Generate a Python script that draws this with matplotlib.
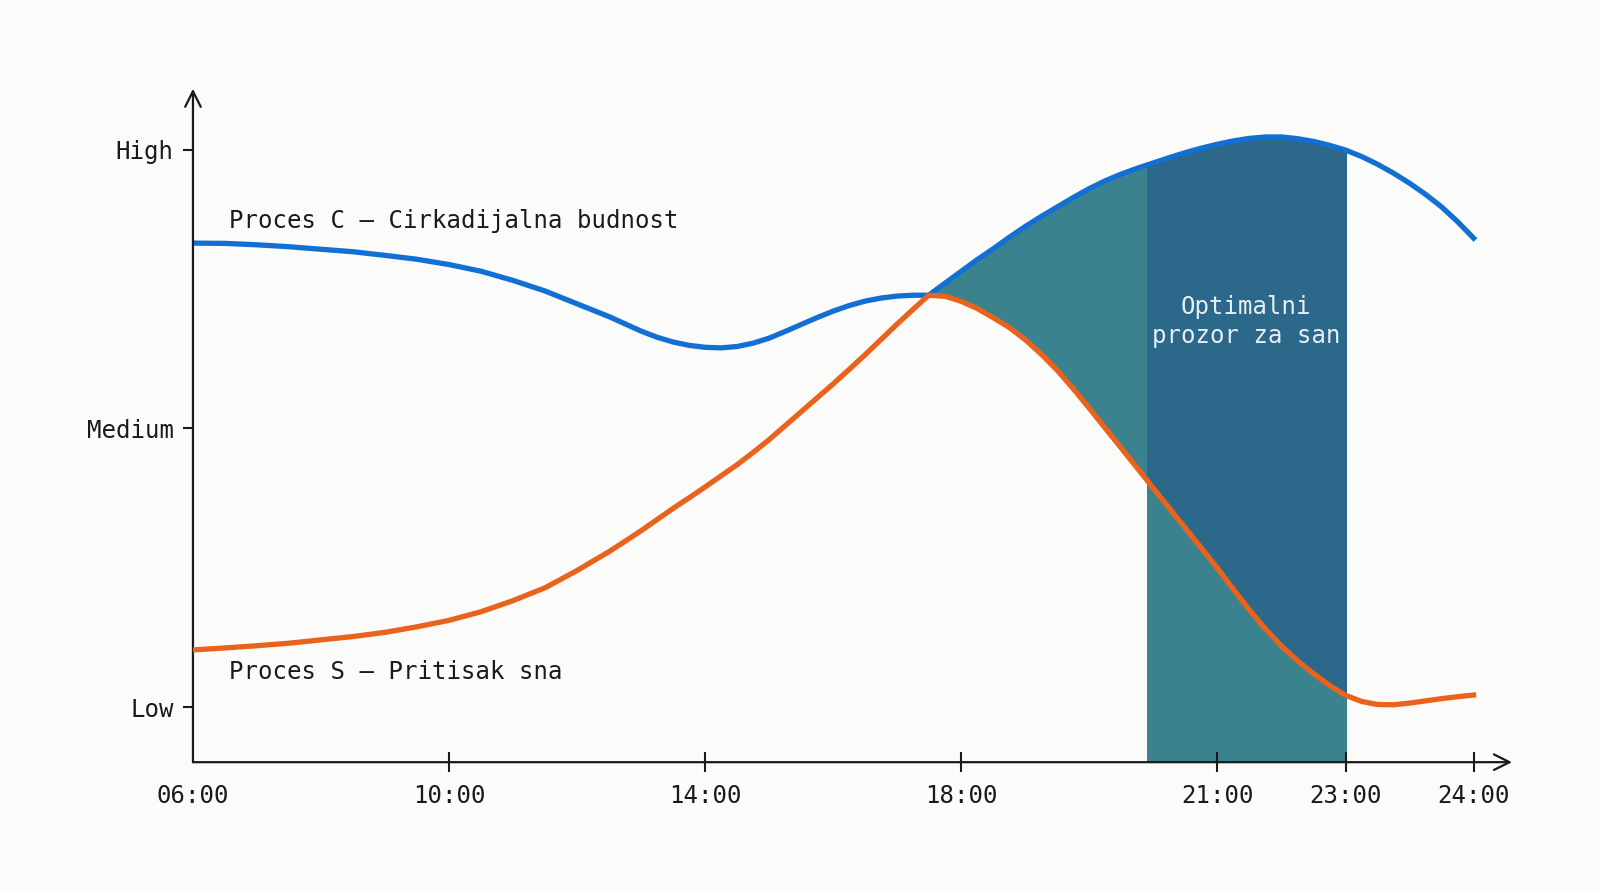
import numpy as np
import matplotlib
matplotlib.use("Agg")
import matplotlib.pyplot as plt
from matplotlib.patches import Rectangle

# x positions on the (non-uniform) time axis; ticks sit at 0,4,8,12,16,18,20
tick_pos = [0, 4, 8, 12, 16, 18, 20]
tick_labels = ["06:00", "10:00", "14:00", "18:00", "21:00", "23:00", "24:00"]
level_pos = [0, 1, 2]
level_labels = ["Low", "Medium", "High"]

pos = [0, 0.5, 1, 1.5, 2, 2.5, 3, 3.5, 4, 4.5, 5, 5.5, 6, 6.5,
       6.75, 7, 7.25, 7.5, 7.75, 8, 8.25, 8.5, 8.75, 9, 9.25, 9.5, 9.75,
       10, 10.25, 10.5, 10.75, 11, 11.25, 11.49, 11.75, 12, 12.25, 12.5,
       12.75, 13, 13.25, 13.5, 13.75, 14, 14.25, 14.5, 14.75, 15, 15.25,
       15.5, 15.75, 16, 16.25, 16.5, 16.75, 17, 17.25, 17.5, 17.75, 18,
       18.25, 18.5, 18.75, 19, 19.25, 19.5, 19.75, 20]

# Proces C - circadian alertness
proc_c = [1.665, 1.664, 1.659, 1.652, 1.643, 1.634, 1.621, 1.607, 1.588,
          1.564, 1.531, 1.493, 1.447, 1.401,
          1.375, 1.349, 1.327, 1.310, 1.298, 1.291, 1.289, 1.294, 1.306,
          1.324, 1.348, 1.373, 1.398, 1.421, 1.441, 1.457, 1.468, 1.475,
          1.478, 1.478, 1.522, 1.564, 1.606, 1.645, 1.686, 1.725, 1.761,
          1.795, 1.829, 1.861, 1.889, 1.913, 1.934, 1.953, 1.972, 1.990,
          2.006, 2.020, 2.032, 2.041, 2.046, 2.046, 2.040, 2.030, 2.016,
          1.999, 1.976, 1.948, 1.916, 1.880, 1.840, 1.795, 1.742, 1.683]

# Proces S - sleep pressure
proc_s = [0.205, 0.212, 0.220, 0.229, 0.241, 0.253, 0.268, 0.288, 0.311,
          0.342, 0.382, 0.428, 0.490, 0.558,
          0.595, 0.633, 0.673, 0.713, 0.751, 0.790, 0.830, 0.870, 0.914,
          0.960, 1.010, 1.060, 1.110, 1.160, 1.212, 1.265, 1.320, 1.375,
          1.428, 1.478, 1.474, 1.456, 1.430, 1.397, 1.362, 1.318, 1.266,
          1.208, 1.142, 1.072, 1.000, 0.929, 0.857, 0.785, 0.713, 0.642,
          0.570, 0.498, 0.422, 0.348, 0.280, 0.219, 0.166, 0.120, 0.078,
          0.042, 0.020, 0.009, 0.008, 0.014, 0.022, 0.030, 0.037, 0.043]

cross_pos = 11.49
window_start, window_end = 14.9, 18.0

label_c = "Proces C — Cirkadijalna budnost"
label_s = "Proces S — Pritisak sna"
label_window = "Optimalni\nprozor za san"

BLUE = "#1270d4"
ORANGE = "#e9631c"
TEAL = "#3a838e"
DARK = "#2b6889"
BG = "#fbfbf9"
INK = "#1a1a1a"

plt.rcParams["font.family"] = ["DejaVu Sans Mono", "DejaVu Sans"]

fig = plt.figure(figsize=(16, 8.93), dpi=100, facecolor=BG)
ax = fig.add_axes([0.1206, 0.1465, 0.8244, 0.7541])
ax.set_facecolor(BG)

xmin, xmax = 0, 20.6
ymin, ymax = -0.198, 2.219
ax.set_xlim(xmin, xmax)
ax.set_ylim(ymin, ymax)

x = np.array(pos)
c = np.array(proc_c)
s = np.array(proc_s)

# teal area between the curves after they cross, up to 23:00
fill1 = ax.fill_between(x, s, c, color=TEAL, lw=0, zorder=1)
fill1.set_clip_path(Rectangle((cross_pos, ymin), window_end - cross_pos,
                              ymax - ymin, transform=ax.transData))

# sleep window band: teal below S, darker between S and C
low = ax.fill_between(x, ymin, s, color=TEAL, lw=0, zorder=1)
low.set_clip_path(Rectangle((window_start, ymin), window_end - window_start,
                            ymax - ymin, transform=ax.transData))
top = ax.fill_between(x, s, c, color=DARK, lw=0, zorder=2)
top.set_clip_path(Rectangle((window_start, ymin), window_end - window_start,
                            ymax - ymin, transform=ax.transData))

ax.plot(pos, proc_c, color=BLUE, lw=3.8, solid_joinstyle="round", zorder=3)
ax.plot(pos, proc_s, color=ORANGE, lw=3.8, solid_joinstyle="round", zorder=4)

ax.text(0.56, 1.743, label_c, fontsize=17.3, color=INK, va="center", ha="left")
ax.text(0.56, 0.125, label_s, fontsize=17.3, color=INK, va="center", ha="left")
ax.text(16.45, 1.384, label_window, fontsize=17.3, color="#e8eff3",
        va="center", ha="center", linespacing=1.3, zorder=5)

# axes drawn as arrows
for side in ["top", "right", "left", "bottom"]:
    ax.spines[side].set_visible(False)
arrow = dict(arrowstyle="->", lw=1.6, color=INK, mutation_scale=28,
             shrinkA=0, shrinkB=0)
ax.annotate("", xy=(1, 0), xytext=(0, 0), xycoords="axes fraction",
            arrowprops=arrow, annotation_clip=False)
ax.annotate("", xy=(0, 1), xytext=(0, 0), xycoords="axes fraction",
            arrowprops=arrow, annotation_clip=False)

ax.set_xticks(tick_pos)
ax.set_xticklabels(tick_labels)
ax.set_yticks(level_pos)
ax.set_yticklabels(level_labels)
ax.tick_params(axis="x", direction="inout", length=14, width=1.5, pad=9,
               labelsize=17.3, colors=INK)
ax.tick_params(axis="y", direction="out", length=7, width=1.5, pad=7,
               labelsize=17.3, colors=INK)
ax.xaxis.get_major_ticks()[0].tick1line.set_visible(False)

fig.savefig("out.png", dpi=100, facecolor=BG)
